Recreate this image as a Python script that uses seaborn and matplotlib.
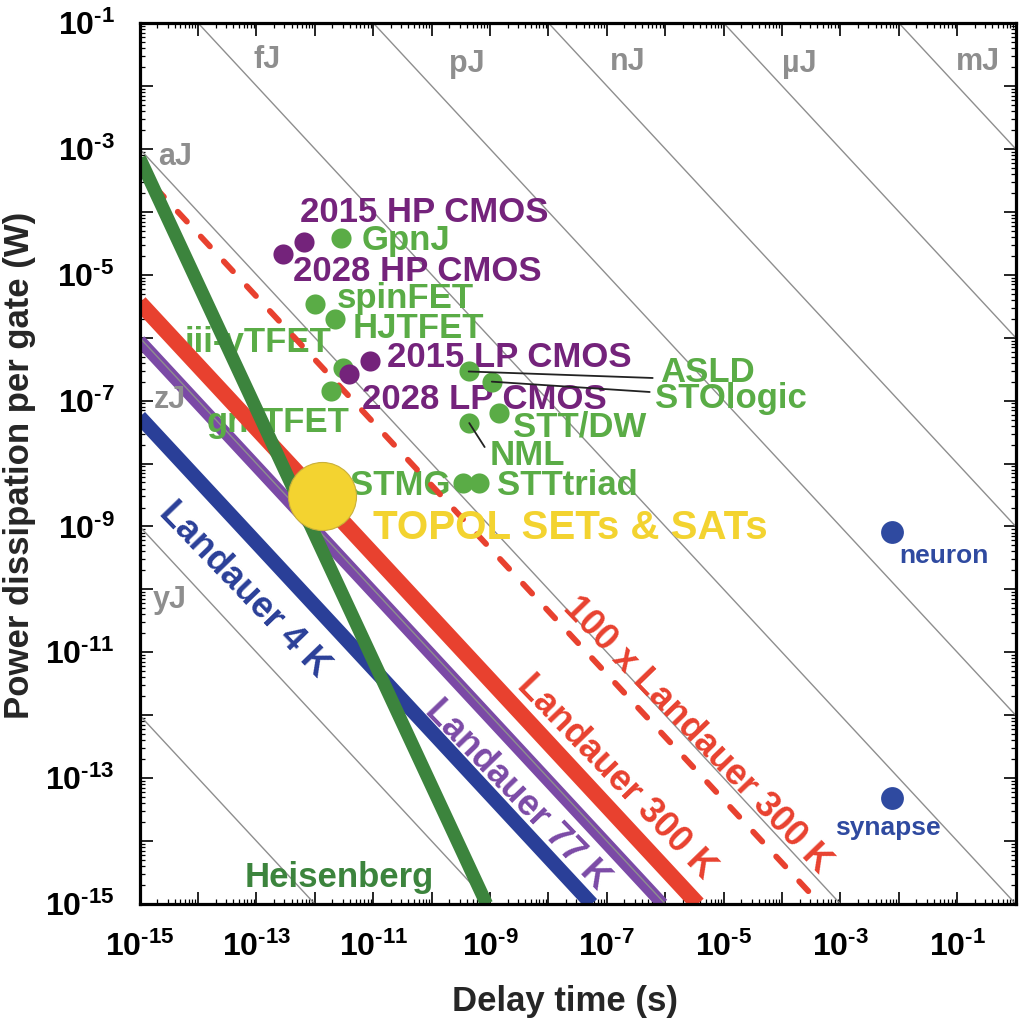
import matplotlib
matplotlib.use("Agg")
import matplotlib.pyplot as plt
import matplotlib.ticker as mticker
import numpy as np
import seaborn as sns

sns.set_theme(style="ticks")
plt.rcParams.update(
    {
        "font.family": ["Liberation Sans", "DejaVu Sans"],
        "font.weight": "bold",
        "mathtext.fontset": "custom",
        "mathtext.rm": "Liberation Sans:bold",
        "mathtext.bf": "Liberation Sans:bold",
        "mathtext.it": "Liberation Sans:bold",
    }
)

# constant-energy guide lines (J)
energy_levels = [1e-27, 1e-24, 1e-21, 1e-18, 1e-15, 1e-12, 1e-9, 1e-6, 1e-3]
energy_units = ["yJ", "zJ", "aJ", "fJ", "pJ", "nJ", "\u00b5J", "mJ"]

# fundamental limits, end points (delay s, power W)
heisenberg_t = [1e-15, 8.7e-10]
heisenberg_p = [7.1e-4, 1e-15]
landauer4_t = [1e-15, 5.5e-8]
landauer4_p = [5.5e-8, 1e-15]
landauer77_t = [1e-15, 9.0e-7]
landauer77_p = [9.0e-7, 1e-15]
landauer300_t = [1e-15, 3.6e-6]
landauer300_p = [3.6e-6, 1e-15]
landauer300x100_t = [1e-15, 4.5e-4]
landauer300x100_p = [4.5e-4, 1e-15]

# CMOS nodes: 2028 HP, 2015 HP, 2028 LP, 2015 LP
cmos_t = [2.8e-13, 6.6e-13, 3.9e-12, 8.8e-12]
cmos_p = [2.1e-5, 3.3e-5, 2.6e-7, 4.3e-7]

# beyond-CMOS devices
device_names = ["GpnJ", "spinFET", "HJTFET", "iii-vTFET", "gnrTFET", "ASLD",
                "STOlogic", "STT/DW", "NML", "STMG", "STTtriad"]
device_t = [2.8e-12, 1.0e-12, 2.2e-12, 3.0e-12, 1.9e-12, 4.3e-10,
            1.07e-9, 1.4e-9, 4.4e-10, 3.4e-10, 6.5e-10]
device_p = [3.9e-5, 3.4e-6, 2.0e-6, 3.3e-7, 1.4e-7, 2.9e-7,
            2.0e-7, 6.3e-8, 4.4e-8, 4.9e-9, 4.9e-9]

# biology
bio_names = ["neuron", "synapse"]
bio_t = [7.5e-3, 7.5e-3]
bio_p = [8.1e-10, 4.9e-14]

topol_t = [1.34e-12]
topol_p = [3.1e-9]

GRAY = "#8e8e8e"
GREEN = "#5aac46"
DKGREEN = "#3c843d"
PURPLE = "#74237b"
LPURPLE = "#7b4aa6"
RED = "#e8412f"
BLUE = "#2a3f98"
YELLOW = "#f3d330"

fig, ax = plt.subplots(figsize=(10.27, 10.28), dpi=100)
fig.subplots_adjust(left=0.136, right=0.989, bottom=0.1206, top=0.9776)
ax.set_xscale("log")
ax.set_yscale("log")

for e in energy_levels:
    sns.lineplot(x=[1e-15, 1.0], y=[e / 1e-15, e], ax=ax, color=GRAY,
                 lw=1.0, zorder=1.5)

sns.lineplot(x=landauer77_t, y=landauer77_p, ax=ax, color=LPURPLE, lw=9,
             zorder=1.2, solid_capstyle="butt")
sns.lineplot(x=landauer4_t, y=landauer4_p, ax=ax, color=BLUE, lw=10.5,
             zorder=2, solid_capstyle="butt")
sns.lineplot(x=landauer300_t, y=landauer300_p, ax=ax, color=RED, lw=11.5,
             zorder=2, solid_capstyle="butt")
sns.lineplot(x=landauer300x100_t, y=landauer300x100_p, ax=ax, color=RED,
             lw=4.2, zorder=2, linestyle=(2.0, (2.3, 3.5)),
             dash_capstyle="round")
sns.lineplot(x=heisenberg_t, y=heisenberg_p, ax=ax, color=DKGREEN, lw=9.5,
             zorder=2.2, solid_capstyle="butt")

sns.scatterplot(x=device_t, y=device_p, ax=ax, color=GREEN, s=210,
                linewidth=0, zorder=3)
sns.scatterplot(x=cmos_t, y=cmos_p, ax=ax, color=PURPLE, s=210,
                linewidth=0, zorder=3.1)
sns.scatterplot(x=bio_t, y=bio_p, ax=ax, color="#2f4aa0", s=270,
                linewidth=0, zorder=3)
sns.scatterplot(x=topol_t, y=topol_p, ax=ax, color=YELLOW, s=2400,
                edgecolor="#c9b03a", linewidth=0.8, zorder=4)

ax.set_xlim(1e-15, 1.0)
ax.set_ylim(1e-15, 1e-1)

# axes styling
ax.xaxis.set_major_locator(mticker.LogLocator(base=10, numticks=20))
ax.yaxis.set_major_locator(mticker.LogLocator(base=10, numticks=20))
ax.xaxis.set_minor_locator(mticker.LogLocator(base=10, subs=np.arange(2, 10), numticks=20))
ax.yaxis.set_minor_locator(mticker.LogLocator(base=10, subs=np.arange(2, 10), numticks=20))


def odd_decades(v, pos):
    k = int(round(np.log10(v)))
    if k % 2 == 0:
        return ""
    return "$\\mathbf{10^{\u2010%d}}$" % abs(k)


ax.xaxis.set_major_formatter(mticker.FuncFormatter(odd_decades))
ax.yaxis.set_major_formatter(mticker.FuncFormatter(odd_decades))
ax.xaxis.set_minor_formatter(mticker.NullFormatter())
ax.yaxis.set_minor_formatter(mticker.NullFormatter())
ax.tick_params(which="both", direction="in", top=True, right=True,
               colors="black", labelsize=23)
ax.tick_params(which="major", length=9, width=1.2)
ax.tick_params(which="minor", length=3.5, width=0.9)
ax.tick_params(axis="x", which="major", pad=20)
ax.tick_params(axis="y", which="major", pad=18)
for sp in ax.spines.values():
    sp.set_linewidth(2.3)
    sp.set_color("black")
ax.grid(False)

ax.set_xlabel("Delay time (s)", fontsize=25, fontweight="bold")
ax.set_ylabel("Power dissipation per gate (W)", fontsize=25, fontweight="bold")
ax.xaxis.set_label_coords(0.485, -0.092)
ax.yaxis.set_label_coords(-0.118, 0.498)

# energy unit labels
unit_pos = [(0.0342, 0.345), (0.0342, 0.572), (0.040, 0.848), (0.146, 0.958),
            (0.374, 0.954), (0.557, 0.956), (0.753, 0.954), (0.957, 0.956)]
for u, (fx, fy) in zip(energy_units, unit_pos):
    ax.text(fx, fy, u, transform=ax.transAxes, color=GRAY, fontsize=22,
            fontweight="bold", ha="center", va="center", zorder=1.6)

# CMOS labels
cmos_text = [("2015 HP CMOS", 0.1826, 0.7855), ("2028 HP CMOS", 0.1747, 0.7174),
             ("2015 LP CMOS", 0.282, 0.6198), ("2028 LP CMOS", 0.2534, 0.5732)]
for s, fx, fy in cmos_text:
    ax.text(fx, fy, s, transform=ax.transAxes, color=PURPLE, fontsize=25,
            fontweight="bold", ha="left", va="center", zorder=2.5)

# device labels
device_pos = [(0.2534, 0.7537), (0.2249, 0.6878), (0.2432, 0.6538),
              (0.0514, 0.6379), (0.0765, 0.546), (0.5936, 0.6038),
              (0.5879, 0.5743), (0.4258, 0.5414), (0.3995, 0.5096),
              (0.2397, 0.4745), (0.4075, 0.4756)]
for s, (fx, fy) in zip(device_names, device_pos):
    ax.text(fx, fy, s, transform=ax.transAxes, color=GREEN, fontsize=25,
            fontweight="bold", ha="left", va="center", zorder=1.8)

# leader lines
leaders = [(5, (0.5856, 0.5971)), (6, (0.5822, 0.5812)), (8, (0.3938, 0.5187))]
for i, end in leaders:
    ax.annotate("", xy=(device_t[i], device_p[i]), xycoords="data",
                xytext=end, textcoords="axes fraction",
                arrowprops=dict(arrowstyle="-", color="#222222", lw=1.3,
                                shrinkA=0, shrinkB=0), zorder=3.5)

ax.text(0.266, 0.4268, "TOPOL SETs & SATs", transform=ax.transAxes,
        color=YELLOW, fontsize=29, fontweight="bold", ha="left", va="center")

for s, fx, fy in [("neuron", 0.8676, 0.395), ("synapse", 0.7934, 0.0863)]:
    ax.text(fx, fy, s, transform=ax.transAxes, color="#2f4aa0", fontsize=19,
            fontweight="bold", ha="left", va="center")

ax.text(0.2283, 0.0306, "Heisenberg", transform=ax.transAxes, color=DKGREEN,
        fontsize=25, fontweight="bold", ha="center", va="center")

line_labels = [("Landauer 4 K", 0.1199, 0.3564, BLUE),
               ("Landauer 77 K", 0.4315, 0.1236, LPURPLE),
               ("Landauer 300 K", 0.5445, 0.1442, RED),
               ("100 x Landauer 300 K", 0.6358, 0.1918, RED)]
for s, fx, fy, c in line_labels:
    ax.text(fx, fy, s, transform=ax.transAxes, color=c, fontsize=26,
            fontweight="bold", ha="center", va="center", rotation=-46,
            rotation_mode="anchor", zorder=2.6)

fig.savefig("out.png", dpi=100)
